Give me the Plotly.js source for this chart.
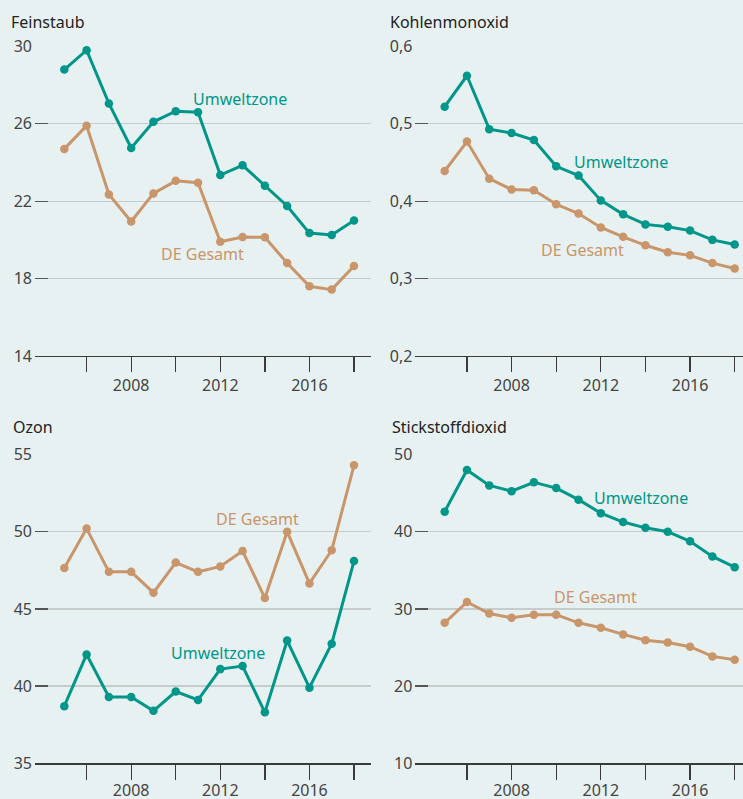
<!DOCTYPE html>
<html>
<head>
<meta charset="utf-8">
<script src="https://cdn.plot.ly/plotly-3.0.1.min.js"></script>
<style>
html,body{margin:0;padding:0;background:#e8f1f1;}
#chart{width:743px;height:799px;}
</style>
</head>
<body>
<div id="chart"></div>
<script>
// Data
const years = [2005,2006,2007,2008,2009,2010,2011,2012,2013,2014,2015,2016,2017,2018];

const feinstaubUmwelt = [28.8,29.8,27.05,24.75,26.1,26.65,26.6,23.35,23.85,22.8,21.75,20.35,20.25,21.0];
const feinstaubDE     = [24.7,25.9,22.35,20.95,22.4,23.05,22.95,19.9,20.15,20.13,18.8,17.6,17.43,18.65];

const coUmwelt = [0.522,0.562,0.493,0.488,0.479,0.445,0.433,0.401,0.383,0.370,0.367,0.362,0.350,0.344];
const coDE     = [0.439,0.477,0.429,0.415,0.414,0.396,0.384,0.366,0.354,0.343,0.334,0.330,0.320,0.313];

const ozonDE     = [47.65,50.2,47.4,47.4,46.05,48.0,47.4,47.75,48.75,45.7,50.0,46.65,48.8,54.3];
const ozonUmwelt = [38.7,42.05,39.3,39.3,38.4,39.65,39.1,41.1,41.3,38.3,42.95,39.9,42.75,48.1];

const no2Umwelt = [42.6,48.0,46.0,45.25,46.4,45.65,44.15,42.4,41.25,40.5,40.0,38.75,36.8,35.4];
const no2DE     = [28.2,30.9,29.4,28.85,29.25,29.25,28.2,27.55,26.7,25.95,25.65,25.1,23.85,23.4];

const panelTitles = ["Feinstaub","Kohlenmonoxid","Ozon","Stickstoffdioxid"];
const seriesNames = ["Umweltzone","DE Gesamt"];
const xTickVals = [2006,2008,2010,2012,2014,2016,2018];
const xTickText = ["","2008","","2012","","2016",""];
const feinTicks = [14,18,22,26,30];
const coTicks = [0.2,0.3,0.4,0.5,0.6];
const ozonTicks = [35,40,45,50,55];
const no2Ticks = [10,20,30,40,50];

const TEAL = "#00968a";
const TAN = "#c9956a";
const FONT = "Noto Sans, Open Sans, sans-serif";

function tr(y, color, name, xa, ya){
  return {x: years, y: y, name: name, type:"scatter", mode:"lines+markers",
    line:{color:color, width:3}, marker:{color:color, size:8.5},
    xaxis:xa, yaxis:ya, cliponaxis:false, showlegend:false, hoverinfo:"x+y"};
}

const data = [
  tr(feinstaubUmwelt, TEAL, seriesNames[0], "x", "y"),
  tr(feinstaubDE, TAN, seriesNames[1], "x", "y"),
  tr(coUmwelt, TEAL, seriesNames[0], "x2", "y2"),
  tr(coDE, TAN, seriesNames[1], "x2", "y2"),
  tr(ozonUmwelt, TEAL, seriesNames[0], "x3", "y3"),
  tr(ozonDE, TAN, seriesNames[1], "x3", "y3"),
  tr(no2Umwelt, TEAL, seriesNames[0], "x4", "y4"),
  tr(no2DE, TAN, seriesNames[1], "x4", "y4")
];

const W = 743, H = 799;
const px = v => v / W;
const py = v => 1 - v / H;

function xax(domain, range, anchor, standoff){
  return {domain: domain, range: range, anchor: anchor, fixedrange:true,
    showgrid:false, zeroline:false, showline:true, linecolor:"#3a3a3a", linewidth:1.3,
    ticks:"outside", ticklen:15, tickwidth:1.3, tickcolor:"#3a3a3a",
    tickmode:"array", tickvals:xTickVals, ticktext:xTickText,
    tickfont:{family:FONT, size:16, color:"#444"}, ticklabelstandoff:standoff};
}
function yax(domain, range, ticks, fmt, anchor){
  return {domain: domain, range: range, anchor: anchor, fixedrange:true,
    showgrid:true, gridcolor:"#c6cbcb", gridwidth:1.3, zeroline:false, showline:false,
    ticks:"inside", ticklen:13, tickwidth:1.3, tickcolor:"#555",
    tickmode:"array", tickvals:ticks, tickformat:fmt,
    tickfont:{family:FONT, size:16, color:"#444"}, ticklabelstandoff:2};
}

const leftX = [px(35), px(371)];
const rightX = [px(415.33), 1];
const topY = [py(356), py(46.33)];
const botY = [py(763.3), py(454.5)];

function lab(text, x, y, color, xref, yref){
  return {text:text, x:x, y:y, xref:xref, yref:yref, showarrow:false,
    xanchor:"center", yanchor:"middle", font:{family:FONT, size:16, color:color}};
}
function title(text, x, y){
  return {text:text, x:px(x), y:py(y), xref:"paper", yref:"paper", showarrow:false,
    xanchor:"left", yanchor:"middle", font:{family:FONT, size:16, color:"#222"}};
}

const layout = {
  width:W, height:H, margin:{l:0,r:0,t:0,b:0},
  paper_bgcolor:"#e8f1f1", plot_bgcolor:"#e8f1f1",
  separators:",.",
  showlegend:false,
  xaxis: xax(leftX, [2003.684, 2018.763], "y", -1),
  yaxis: yax(topY, [14,30], feinTicks, "", "x"),
  xaxis2: xax(rightX, [2003.685, 2018.373], "y2", -1),
  yaxis2: yax(topY, [0.2,0.6], coTicks, ".1f", "x2"),
  xaxis3: xax(leftX, [2003.684, 2018.763], "y3", -3),
  yaxis3: yax(botY, [35,55], ozonTicks, "", "x3"),
  xaxis4: xax(rightX, [2003.685, 2018.373], "y4", -3),
  yaxis4: yax(botY, [10,50], no2Ticks, "", "x4"),
  annotations: [
    title(panelTitles[0], 9, 22),
    title(panelTitles[1], 388, 22),
    title(panelTitles[2], 11, 427),
    title(panelTitles[3], 390, 427),
    lab(seriesNames[0], 2012.88, 27.28, TEAL, "x", "y"),
    lab(seriesNames[1], 2011.2, 19.28, TAN, "x", "y"),
    lab(seriesNames[0], 2012.9, 0.4506, TEAL, "x2", "y2"),
    lab(seriesNames[1], 2011.19, 0.337, TAN, "x2", "y2"),
    lab(seriesNames[1], 2013.67, 50.82, TAN, "x3", "y3"),
    lab(seriesNames[0], 2011.91, 42.14, TEAL, "x3", "y3"),
    lab(seriesNames[0], 2013.82, 44.4, TEAL, "x4", "y4"),
    lab(seriesNames[1], 2011.76, 31.5, TAN, "x4", "y4")
  ]
};

Plotly.newPlot("chart", data, layout, {displayModeBar:false, staticPlot:true});
</script>
</body>
</html>
